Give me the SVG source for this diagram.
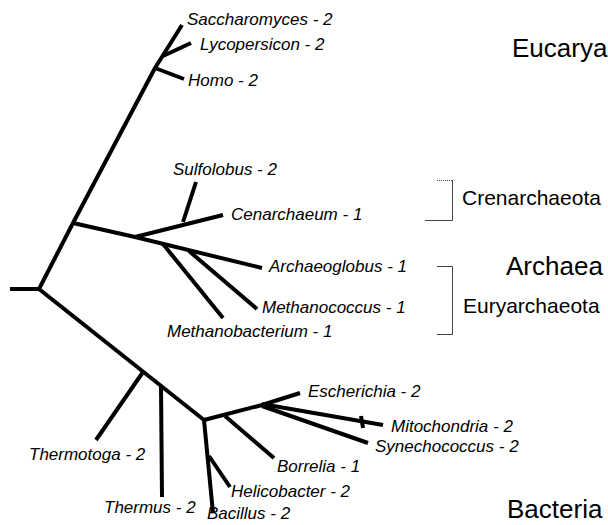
<svg xmlns="http://www.w3.org/2000/svg" width="608" height="525" viewBox="0 0 608 525">
<style>
.br{stroke:#000;stroke-width:4;fill:none;stroke-linecap:butt;stroke-linejoin:round}
.lb{font-family:"Liberation Sans",Arial,sans-serif;font-style:italic;font-size:17px;fill:#000}
.gp{font-family:"Liberation Sans",Arial,sans-serif;font-size:26px;fill:#000}
.sg{font-family:"Liberation Sans",Arial,sans-serif;font-size:21px;fill:#000}
.bk{stroke:#444;stroke-width:1;fill:none}
</style>
<rect width="608" height="525" fill="#fff"/>
<g id="connectors">
<path class="br" d="M10,289 L39,289"/>
<path class="br" d="M39,289 L73,223 L155,68 L182,25"/>
<path class="br" d="M163,56 L191,43"/>
<path class="br" d="M155,68 L184,79"/>
<path class="br" d="M73,223 L135,237 L223,215"/>
<path class="br" d="M183,222 L196,182"/>
<path class="br" d="M135,237 L262,268"/>
<path class="br" d="M163,244 L223,318"/>
<path class="br" d="M189,251 L257,309"/>
<path class="br" d="M39,289 L204,420"/>
<path class="br" d="M143,372 L96,440"/>
<path class="br" d="M161,386 L162,497"/>
<path class="br" d="M204,420 L213,513"/>
<path class="br" d="M209,456 L230,487"/>
<path class="br" d="M204,420 L262,405 L300,393"/>
<path class="br" d="M225,416 L274,458"/>
<path class="br" d="M262,404 L383,425"/>
<path class="br" d="M262,406 L368,443"/>
<path class="br" stroke-width="3" d="M361,416 L363,428"/>
</g>
<g id="n-saccharomyces"><text class="lb" x="187" y="25">Saccharomyces - 2</text></g>
<g id="n-lycopersicon"><text class="lb" x="200" y="50">Lycopersicon - 2</text></g>
<g id="n-homo"><text class="lb" x="188" y="86">Homo - 2</text></g>
<g id="n-sulfolobus"><text class="lb" x="173" y="175">Sulfolobus - 2</text></g>
<g id="n-cenarchaeum"><text class="lb" x="231" y="220">Cenarchaeum - 1</text></g>
<g id="n-archaeoglobus"><text class="lb" x="269" y="272">Archaeoglobus - 1</text></g>
<g id="n-methanococcus"><text class="lb" x="262" y="313">Methanococcus - 1</text></g>
<g id="n-methanobacterium"><text class="lb" x="167" y="337">Methanobacterium - 1</text></g>
<g id="n-escherichia"><text class="lb" x="308" y="397">Escherichia - 2</text></g>
<g id="n-mitochondria"><text class="lb" x="391" y="432">Mitochondria - 2</text></g>
<g id="n-synechococcus"><text class="lb" x="375" y="452">Synechococcus - 2</text></g>
<g id="n-borrelia"><text class="lb" x="277" y="472">Borrelia - 1</text></g>
<g id="n-helicobacter"><text class="lb" x="231" y="497">Helicobacter - 2</text></g>
<g id="n-bacillus"><text class="lb" x="207" y="519">Bacillus - 2</text></g>
<g id="n-thermotoga"><text class="lb" x="29" y="460">Thermotoga - 2</text></g>
<g id="n-thermus"><text class="lb" x="104" y="513">Thermus - 2</text></g>
<g id="g-eucarya"><text class="gp" x="512" y="57">Eucarya</text></g>
<g id="g-archaea"><text class="gp" x="506" y="275">Archaea</text></g>
<g id="g-bacteria"><text class="gp" x="507" y="518">Bacteria</text></g>
<g id="g-crenarchaeota">
<path class="bk" stroke-dasharray="1,1" d="M437,180.5 L452,180.5"/>
<path class="bk" d="M452.5,180 L452.5,220.5 L425,220.5"/>
<text class="sg" x="462" y="205">Crenarchaeota</text>
</g>
<g id="g-euryarchaeota">
<path class="bk" d="M437,266.5 L452.5,266.5 L452.5,334.5 L437,334.5"/>
<text class="sg" x="463" y="313">Euryarchaeota</text>
</g>
</svg>
